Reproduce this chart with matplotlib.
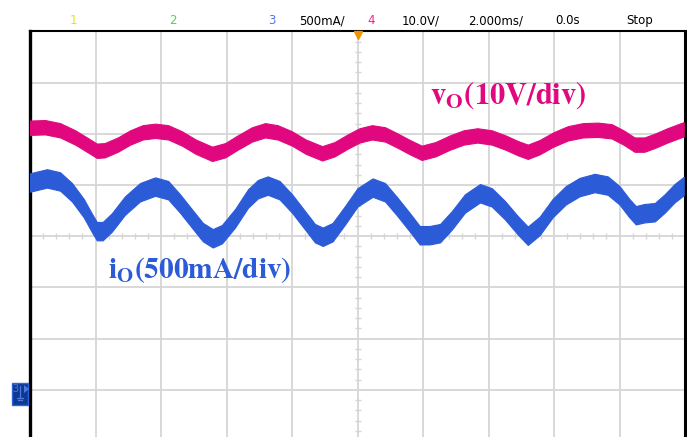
import matplotlib
matplotlib.use("Agg")
import matplotlib.pyplot as plt
from matplotlib.patches import Rectangle, Polygon
from matplotlib.lines import Line2D

# ---- data (screen divisions: x 0..10 div = 2 ms/div, y -4..4 div around centre) ----
v_x = [0.00, 0.23, 0.46, 0.69, 0.92, 1.02, 1.14, 1.34, 1.53, 1.72, 1.91, 2.11, 2.32, 2.53,
       2.78, 2.98, 3.17, 3.39, 3.59, 3.78, 4.00, 4.21, 4.46, 4.65, 4.85, 5.03, 5.22, 5.42,
       5.61, 5.80, 5.98, 6.19, 6.41, 6.62, 6.83, 7.05, 7.26, 7.45, 7.60, 7.78, 7.99, 8.21,
       8.44, 8.67, 8.88, 9.06, 9.23, 9.38, 9.55, 9.73, 9.98]
v_c = [2.12, 2.13, 2.07, 1.93, 1.75, 1.67, 1.68, 1.79, 1.93, 2.03, 2.06, 2.03, 1.91, 1.75,
       1.61, 1.68, 1.83, 1.99, 2.07, 2.03, 1.91, 1.75, 1.62, 1.70, 1.85, 1.97, 2.03, 1.99,
       1.87, 1.74, 1.63, 1.70, 1.83, 1.93, 1.97, 1.93, 1.83, 1.72, 1.65, 1.74, 1.89, 2.01,
       2.07, 2.08, 2.05, 1.93, 1.79, 1.79, 1.87, 1.97, 2.09]
v_half = 0.14

i_x = [0.00, 0.26, 0.46, 0.64, 0.82, 0.95, 1.02, 1.11, 1.25, 1.45, 1.68, 1.91, 2.11, 2.29,
       2.47, 2.64, 2.79, 2.93, 3.13, 3.33, 3.48, 3.63, 3.81, 4.00, 4.20, 4.35, 4.47, 4.62,
       4.81, 5.00, 5.23, 5.42, 5.60, 5.80, 5.95, 6.10, 6.26, 6.44, 6.64, 6.87, 7.05, 7.25,
       7.45, 7.60, 7.78, 7.98, 8.18, 8.39, 8.62, 8.82, 9.00, 9.15, 9.25, 9.38, 9.54, 9.69,
       9.84, 9.98]
i_c = [1.05, 1.13, 1.07, 0.86, 0.55, 0.25, 0.10, 0.10, 0.27, 0.60, 0.86, 0.97, 0.90, 0.64,
       0.35, 0.08, -0.04, 0.04, 0.35, 0.74, 0.92, 0.99, 0.90, 0.64, 0.31, 0.06, -0.01, 0.08,
       0.41, 0.76, 0.95, 0.86, 0.59, 0.27, 0.02, 0.02, 0.06, 0.31, 0.64, 0.84, 0.76, 0.51,
       0.21, 0.01, 0.20, 0.55, 0.80, 0.96, 1.04, 0.99, 0.80, 0.55, 0.41, 0.45, 0.47, 0.64,
       0.84, 0.98]
i_half = 0.18

header_texts = ["1", "2", "3", "500mA/", "4", "10.0V/", "2.000ms/", "0.0s", "Stop"]
header_colors = ["#E6E600", "#44DD44", "#4F77E0", "black", "#F0228C", "black", "black", "black", "black"]
header_xpx = [73, 173, 272, 299, 371, 402, 468, 555, 626]
header_ha = ["center", "center", "center", "left", "center", "left", "left", "left", "left"]

v_label = r"$\mathbf{v_O(10V/div)}$"
i_label = r"$\mathbf{i_O(500mA/div)}$"

MAG = "#E1087F"
BLU = "#2C5BD8"
GRID = "#D6D6D6"

W, H = 687, 437
fig = plt.figure(figsize=(W / 100, H / 100), dpi=100)
fig.patch.set_facecolor("white")

top_px, bot_px, left_px, right_px = 31.5, 441.0, 30.0, 685.0
ax = fig.add_axes([left_px / W, 1 - bot_px / H, (right_px - left_px) / W, (bot_px - top_px) / H])
ax.set_xlim(0, 10)
ax.set_ylim(-4, 4)
ax.set_xticks([])
ax.set_yticks([])
ax.spines["bottom"].set_visible(False)
ax.spines["left"].set_linewidth(2.4)
ax.spines["right"].set_linewidth(2.2)
ax.spines["top"].set_linewidth(1.5)
for s in ["left", "right", "top"]:
    ax.spines[s].set_color("black")

# grid
for gx in range(1, 10):
    ax.axvline(gx, color=GRID, lw=1.3, zorder=1)
for gy in range(-3, 4):
    ax.axhline(gy, color=GRID, lw=1.3, zorder=1)
# minor ticks on centre lines
mx = [k / 5 for k in range(1, 50) if k % 5 != 0]
ax.plot(mx, [0] * len(mx), ls="none", marker="|", ms=4, mew=1.0, color=GRID, zorder=1)
my = [k / 5 - 4 for k in range(1, 40) if k % 5 != 0]
ax.plot([5] * len(my), my, ls="none", marker="_", ms=4, mew=1.0, color=GRID, zorder=1)

# traces
v_lo = [c - v_half for c in v_c]
v_hi = [c + v_half for c in v_c]
ax.fill_between(v_x, v_lo, v_hi, color=MAG, lw=0.8, edgecolor=MAG, zorder=3)
i_lo = [c - i_half for c in i_c]
i_hi = [c + i_half for c in i_c]
ax.fill_between(i_x, i_lo, i_hi, color=BLU, lw=0.8, edgecolor=BLU, zorder=3)

# labels
ax.text(6.10, 2.59, v_label, color=MAG, fontsize=22, math_fontfamily="stix",
        ha="left", va="baseline", zorder=5)
ax.text(1.19, -0.82, i_label, color=BLU, fontsize=21.2, math_fontfamily="stix",
        ha="left", va="baseline", zorder=5)

# trigger marker
ax.plot([5], [3.93], marker="v", ms=6, color="#F39200", clip_on=False, zorder=6)

# header
for t, c, xp, ha in zip(header_texts, header_colors, header_xpx, header_ha):
    fig.text(xp / W, 1 - 20.5 / H, t, color=c, fontsize=8.5, ha=ha, va="center",
             family="DejaVu Sans")

# ground marker for channel 3
fig.add_artist(Rectangle((12 / W, 1 - 405 / H), 16 / W, 22 / H, transform=fig.transFigure,
                         facecolor="#0C3A8E", edgecolor="#2F63E0", lw=1.0))
fig.text(15.5 / W, 1 - 389 / H, "3", color="#4F77E0", fontsize=7, ha="center", va="center")
fig.add_artist(Line2D([20 / W, 20 / W], [1 - 386 / H, 1 - 398 / H], transform=fig.transFigure,
                      color="#4F77E0", lw=0.9))
fig.add_artist(Line2D([17 / W, 23 / W], [1 - 398 / H, 1 - 398 / H], transform=fig.transFigure,
                      color="#4F77E0", lw=0.9))
fig.add_artist(Line2D([18 / W, 22 / W], [1 - 400 / H, 1 - 400 / H], transform=fig.transFigure,
                      color="#4F77E0", lw=0.9))
fig.add_artist(Polygon([[24 / W, 1 - 385 / H], [24 / W, 1 - 393 / H], [29 / W, 1 - 389 / H]],
                       closed=True, transform=fig.transFigure, facecolor="#4F77E0",
                       edgecolor="none"))

fig.savefig("out.png", dpi=100, facecolor="white")
